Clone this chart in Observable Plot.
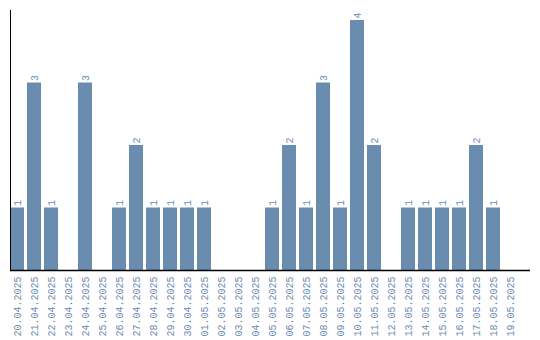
<!DOCTYPE html>
<html>
<head>
<meta charset="utf-8">
<script src="https://cdn.jsdelivr.net/npm/d3@7"></script>
<script src="https://cdn.jsdelivr.net/npm/@observablehq/plot@0.6"></script>
<style>
  body { margin: 0; background: #fff; }
</style>
</head>
<body>
<div id="chart"></div>
<script>
const dates = ["20.04.2025","21.04.2025","22.04.2025","23.04.2025","24.04.2025","25.04.2025","26.04.2025","27.04.2025","28.04.2025","29.04.2025","30.04.2025","01.05.2025","02.05.2025","03.05.2025","04.05.2025","05.05.2025","06.05.2025","07.05.2025","08.05.2025","09.05.2025","10.05.2025","11.05.2025","12.05.2025","13.05.2025","14.05.2025","15.05.2025","16.05.2025","17.05.2025","18.05.2025","19.05.2025"];
const counts = [1,3,1,0,3,0,1,2,1,1,1,1,0,0,0,1,2,1,3,1,4,2,0,1,1,1,1,2,1,0];

const data = dates.map((d, i) => ({date: d, count: counts[i]}));
const color = "#6a8caf";
const font = "Liberation Mono, monospace";

const chart = Plot.plot({
  width: 540,
  height: 340,
  marginTop: 10,
  marginBottom: 70,
  marginLeft: 10,
  marginRight: 10,
  style: {fontFamily: font, fontSize: "10px", background: "#fff"},
  x: {domain: dates, range: [10, 517], paddingInner: 3/17, paddingOuter: 0, align: 0},
  y: {domain: [0, 4.16], axis: null},
  marks: [
    Plot.barY(data.filter(d => d.count > 0), {x: "date", y: "count", fill: color}),
    Plot.text(data.filter(d => d.count > 0), {x: "date", y: "count", text: d => String(d.count), rotate: -90, textAnchor: "start", lineAnchor: "middle", dy: -2, fill: color, fontSize: 10}),
    Plot.axisX({tickSize: 0, tickPadding: 6, tickRotate: -90, fill: color, fontSize: 10, label: null}),
    Plot.ruleY([0], {stroke: "#000", strokeWidth: 1.5}),
    Plot.frame({anchor: "left", stroke: "#000"})
  ]
});
document.getElementById("chart").appendChild(chart);
</script>
</body>
</html>
